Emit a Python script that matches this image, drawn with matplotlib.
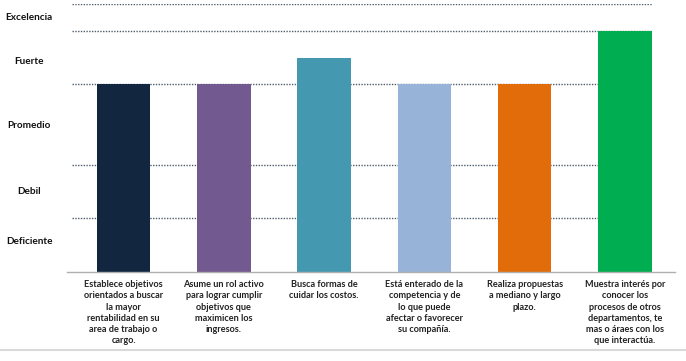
import matplotlib.pyplot as plt

categories = [
    "Establece objetivos\norientados a buscar\nla mayor\nrentabilidad en su\narea de trabajo o\ncargo.",
    "Asume un rol activo\npara lograr cumplir\nobjetivos que\nmaximicen los\ningresos.",
    "Busca formas de\ncuidar los costos.",
    "Está enterado de la\ncompetencia y de\nlo que puede\nafectar o favorecer\nsu compañía.",
    "Realiza propuestas\na mediano y largo\nplazo.",
    "Muestra interés por\nconocer los\nprocesos de otros\ndepartamentos, te\nmas o áraes con los\nque interactúa.",
]
values = [3.5, 3.5, 4.0, 3.5, 3.5, 4.5]
colors = ["#12263f", "#72598f", "#4499b0", "#97b4d8", "#e36c0a", "#00ad50"]

level_names = ["Excelencia", "Fuerte", "Promedio", "Debil", "Deficiente"]
level_pos = [4.75, 3.92, 2.74, 1.51, 0.56]
grid_levels = [1, 2, 3.5, 4.5, 5]

plt.rcParams['font.family'] = ['Lato', 'DejaVu Sans']

fig = plt.figure(figsize=(6.86, 3.61), dpi=100)
ax = fig.add_axes([67 / 686, 89 / 361, 608 / 686, 268 / 361])

x = range(len(categories))
ax.hlines(grid_levels, -0.515, 5.27, colors="#4d5d6b", linestyles=(0, (1, 1)),
          linewidth=1.0, zorder=1)
ax.bar(x, values, width=0.534, color=colors, zorder=2)

ax.set_xlim(-0.564, 5.50)
ax.set_ylim(0, 5)

ax.set_xticks(list(x))
ax.set_xticklabels(categories, fontsize=6.6, fontweight="bold", color="#222222",
                   linespacing=1.3)
ax.tick_params(axis="x", length=0, pad=6)
ax.set_yticks([])

for name, pos in zip(level_names, level_pos):
    ax.text(-0.062, pos, name, transform=ax.get_yaxis_transform(), ha="center",
            va="center", fontsize=7.2, fontweight="bold", color="#111111")

for side in ["top", "right", "left"]:
    ax.spines[side].set_visible(False)
ax.spines["bottom"].set_color("#b0b0b0")
ax.spines["bottom"].set_linewidth(1.0)

fig.add_artist(plt.Line2D([0, 1], [11 / 361, 11 / 361], color="#d9d9d9",
                          linewidth=1.5, transform=fig.transFigure))

fig.savefig("out.png", dpi=100)
